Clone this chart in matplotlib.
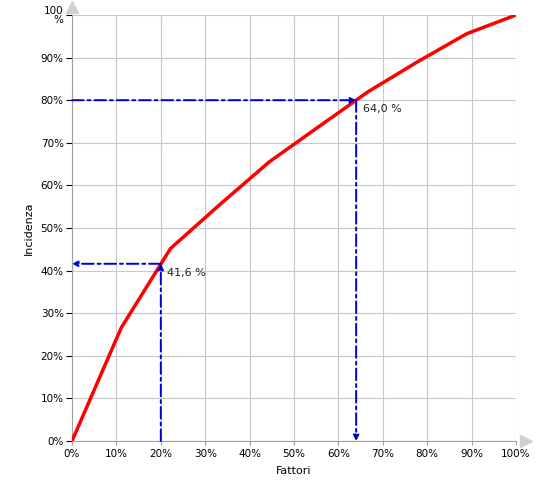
import matplotlib.pyplot as plt
import matplotlib.transforms as mtransforms
import numpy as np

# cumulative curve (fattori vs incidenza), in percent
fattori = [0, 11.1, 22.2, 33.3, 44.4, 55.6, 66.7, 77.8, 88.9, 100]
incidenza = [0, 26.6, 45.2, 55.5, 65.5, 73.8, 82.0, 89.0, 95.6, 100]

# the two reading points
punto_20 = (20, 41.6)
punto_80 = (64.0, 80)

xticks = np.arange(0, 101, 10)
xlabels = [f"{v}%" for v in xticks]
ylabels = [f"{v}%" for v in xticks[:-1]] + ["100\n%"]

plt.rcParams['font.family'] = ['DejaVu Sans']
plt.rcParams['font.size'] = 7.5

fig = plt.figure(figsize=(5.5, 5), dpi=100)
ax = fig.add_axes([72 / 550, 59 / 500, 444 / 550, 426 / 500])

ax.plot(fattori, incidenza, color="#ff0000", lw=2.5, zorder=3, solid_capstyle="butt")

blu = "#0000cc"
arr = dict(arrowstyle="-|>", color=blu, lw=1.4, ls=(0, (6, 2, 1.5, 2)),
           mutation_scale=8, shrinkA=0, shrinkB=0)

# 20% -> 41,6 %
ax.annotate("", xy=(20, punto_20[1]), xytext=(20, 0), arrowprops=arr, zorder=4)
ax.annotate("", xy=(0, punto_20[1]), xytext=(20, punto_20[1]), arrowprops=arr, zorder=4)
ax.text(21.5, punto_20[1] - 1, "41,6 %", ha="left", va="top", fontsize=8, color="#222222")

# 80% -> 64,0 %
ax.annotate("", xy=(punto_80[0], 80), xytext=(0, 80), arrowprops=arr, zorder=4)
ax.annotate("", xy=(punto_80[0], 0), xytext=(punto_80[0], 80), arrowprops=arr, zorder=4)
ax.text(65.5, 79, "64,0 %", ha="left", va="top", fontsize=8, color="#222222")

ax.set_xlim(0, 100)
ax.set_ylim(0, 100)
ax.set_xticks(xticks)
ax.set_xticklabels(xlabels)
ax.set_yticks(xticks)
ax.set_yticklabels(ylabels, linespacing=0.9)

ax.grid(True, color="#c8c8c8", lw=0.8)
ax.set_axisbelow(True)
for s in ["top", "right"]:
    ax.spines[s].set_visible(False)
for s in ["left", "bottom"]:
    ax.spines[s].set_color("#a0a0a0")
ax.tick_params(axis="y", length=4, color="black", pad=2)
ax.tick_params(axis="x", length=3, color="#a0a0a0", pad=3)

# axis arrow heads, just past the axis ends
tr_x = mtransforms.offset_copy(ax.transAxes, fig=fig, x=10, y=0, units="dots")
tr_y = mtransforms.offset_copy(ax.transAxes, fig=fig, x=0, y=8, units="dots")
ax.plot(1, 0, ">", transform=tr_x, color="#d0d0d0", ms=9, clip_on=False)
ax.plot(0, 1, "^", transform=tr_y, color="#d0d0d0", ms=9, clip_on=False)

ax.set_xlabel("Fattori", fontsize=8, labelpad=5)
ax.set_ylabel("Incidenza", fontsize=8, labelpad=5)

plt.savefig("out.png", dpi=100)
